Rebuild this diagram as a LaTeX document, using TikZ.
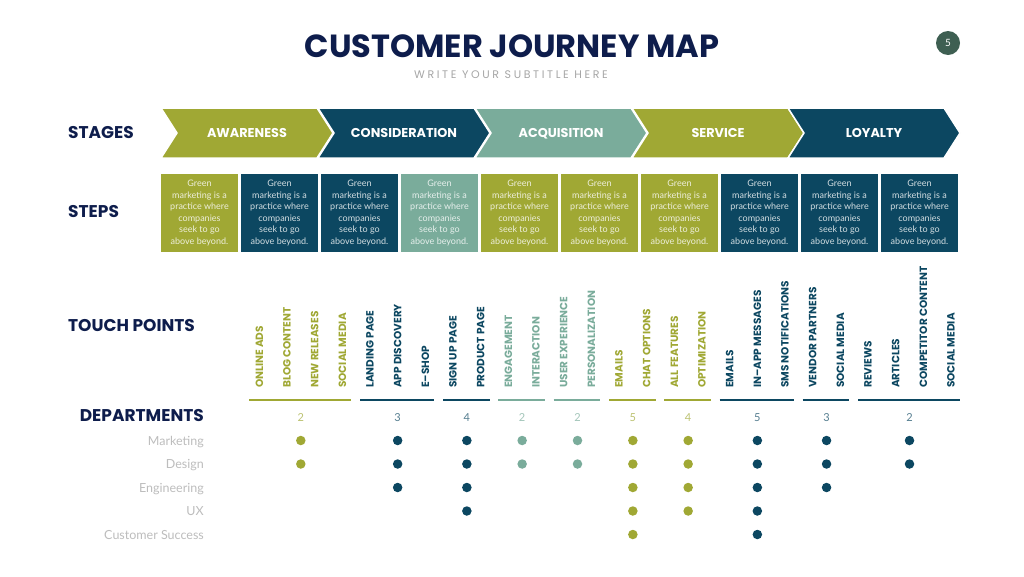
\documentclass[tikz,border=0pt]{standalone}
\usepackage{fontspec}
\setmainfont{Lato}
\newfontfamily\poppins{Poppins}
\newfontfamily\poppinswide[LetterSpace=24]{Poppins}
\usetikzlibrary{calc}

\definecolor{jmolive}{HTML}{A0A834}
\definecolor{jmnavy}{HTML}{0C4761}
\definecolor{jmteal}{HTML}{7AAC9B}
\definecolor{jmtitle}{HTML}{0E1D4C}
\definecolor{jmgray}{HTML}{BDBDBD}
\definecolor{jmpage}{HTML}{3E5F52}

\tikzset{
	head/.style={anchor=west,inner sep=0,text=jmtitle,text height=11.5pt,text depth=0pt,font=\poppins\bfseries\fontsize{17}{17}\selectfont},
	stage/.style={text=white,inner sep=0,text height=9pt,text depth=0pt,font=\poppins\bfseries\fontsize{12.8}{13}\selectfont},
	stepbox/.style={minimum width=77pt,minimum height=78pt,inner sep=0,align=center,font=\fontsize{9}{11.5}\selectfont},
	touch/.style={rotate=90,anchor=west,inner sep=0,font=\poppins\bfseries\fontsize{10.5}{10.5}\selectfont},
	uline/.style={line width=2.5pt},
	num/.style={inner sep=0,text height=8pt,text depth=0pt,font=\fontsize{11}{11}\selectfont},
	dept/.style={anchor=east,inner sep=0,text=jmgray,text height=9pt,text depth=0pt,font=\fontsize{12.5}{13}\selectfont},
	tdot/.style={circle,inner sep=0,minimum size=9.5pt}
}

\begin{document}
\begin{tikzpicture}[x=1pt,y=-1pt]
	\fill[white] (0,0) rectangle (1024,576);
	\useasboundingbox (0,0) rectangle (1024,576);

	\node[inner sep=0,text=jmtitle,font=\poppins\bfseries\fontsize{32}{32}\selectfont] (title) at (512,46) {CUSTOMER JOURNEY MAP};
	\node[inner sep=0,text=black!35,font=\poppinswide\fontsize{11}{11}\selectfont] (subtitle) at (511,75) {WRITE YOUR SUBTITLE HERE};
	\node[circle,fill=jmpage,minimum size=24pt,inner sep=0,text=white,font=\fontsize{10}{10}\selectfont] (page) at (948,43) {5};

	\node[head] (stages) at (68,133) {STAGES};
	\node[head] (steps) at (68,212) {STEPS};
	\node[head] (touchpoints) at (68,326) {TOUCH POINTS};
	\node[head,anchor=east] (departments) at (204,416) {DEPARTMENTS};

	\foreach \x/\c in {161/jmolive,318/jmnavy,475/jmteal,632/jmolive,788/jmnavy}
		\filldraw[fill=\c,draw=white,line width=1.5pt] (\x,108) -- ++(156,0) -- ++(16,25) -- ++(-16,25) -- ++(-156,0) -- ++(16,-25) -- cycle;
	\node[stage] (s1) at (247,133) {AWARENESS};
	\node[stage] (s2) at (404,133) {CONSIDERATION};
	\node[stage] (s3) at (561,133) {ACQUISITION};
	\node[stage] (s4) at (718,133) {SERVICE};
	\node[stage] (s5) at (874,133) {LOYALTY};

	\foreach \i/\c in {1/jmolive,2/jmnavy,3/jmnavy,4/jmteal,5/jmolive,6/jmolive,7/jmolive,8/jmnavy,9/jmnavy,10/jmnavy}
		\node[stepbox,fill=\c,text=white!82!\c] (b\i) at ({119.5+80*\i},213) {Green\\marketing is a\\practice where\\companies\\seek to go\\above beyond.};

	\node[touch,text=jmolive] (p1) at (259.3,388) {ONLINE ADS};
	\node[touch,text=jmolive] (p2) at (287.0,388) {BLOG CONTENT};
	\node[touch,text=jmolive] (p3) at (314.6,388) {NEW RELEASES};
	\node[touch,text=jmolive] (p4) at (342.3,388) {SOCIAL MEDIA};
	\node[touch,text=jmnavy] (p5) at (370.0,388) {LANDING PAGE};
	\node[touch,text=jmnavy] (p6) at (397.7,388) {APP DISCOVERY};
	\node[touch,text=jmnavy] (p7) at (425.3,388) {E–SHOP};
	\node[touch,text=jmnavy] (p8) at (453.0,388) {SIGN UP PAGE};
	\node[touch,text=jmnavy] (p9) at (480.7,388) {PRODUCT PAGE};
	\node[touch,text=jmteal] (p10) at (508.3,388) {ENGAGEMENT};
	\node[touch,text=jmteal] (p11) at (536.0,388) {INTERACTION};
	\node[touch,text=jmteal] (p12) at (563.7,388) {USER EXPERIENCE};
	\node[touch,text=jmteal] (p13) at (591.3,388) {PERSONALIZATION};
	\node[touch,text=jmolive] (p14) at (619.0,388) {EMAILS};
	\node[touch,text=jmolive] (p15) at (646.7,388) {CHAT OPTIONS};
	\node[touch,text=jmolive] (p16) at (674.3,388) {ALL FEATURES};
	\node[touch,text=jmolive] (p17) at (702.0,388) {OPTIMIZATION};
	\node[touch,text=jmnavy] (p18) at (729.7,388) {EMAILS};
	\node[touch,text=jmnavy] (p19) at (757.4,388) {IN–APP MESSAGES};
	\node[touch,text=jmnavy] (p20) at (785.0,388) {SMS NOTIFICATIONS};
	\node[touch,text=jmnavy] (p21) at (812.7,388) {VENDOR PARTNERS};
	\node[touch,text=jmnavy] (p22) at (840.4,388) {SOCIAL MEDIA};
	\node[touch,text=jmnavy] (p23) at (868.0,388) {REVIEWS};
	\node[touch,text=jmnavy] (p24) at (895.7,388) {ARTICLES};
	\node[touch,text=jmnavy] (p25) at (923.4,388) {COMPETITOR CONTENT};
	\node[touch,text=jmnavy] (p26) at (951.0,388) {SOCIAL MEDIA};

	\node[dept] (r1) at (204,440.5) {Marketing};
	\node[dept] (r2) at (204,464) {Design};
	\node[dept] (r3) at (204,487.5) {Engineering};
	\node[dept] (r4) at (204,511) {UX};
	\node[dept] (r5) at (204,534.5) {Customer Success};

	\foreach \g/\a/\b/\c/\n in {1/1/4/jmolive/2,2/5/7/jmnavy/3,3/8/9/jmnavy/4,4/10/11/jmteal/2,5/12/13/jmteal/2,6/14/15/jmolive/5,7/16/17/jmolive/4,8/18/20/jmnavy/5,9/21/22/jmnavy/3,10/23/26/jmnavy/2}{
		\draw[uline,\c] ($(p\a.west)+(-10,12)$) -- ($(p\b.west)+(9,12)$);
		\node[num,text=\c!70] (n\g) at ($(p\a.west)!0.5!(p\b.west)+(0,29)$) {\n};
		\foreach \r in {1,...,\n}
			\node[tdot,fill=\c] (d\g-\r) at (n\g |- r\r) {};
	}
\end{tikzpicture}
\end{document}
